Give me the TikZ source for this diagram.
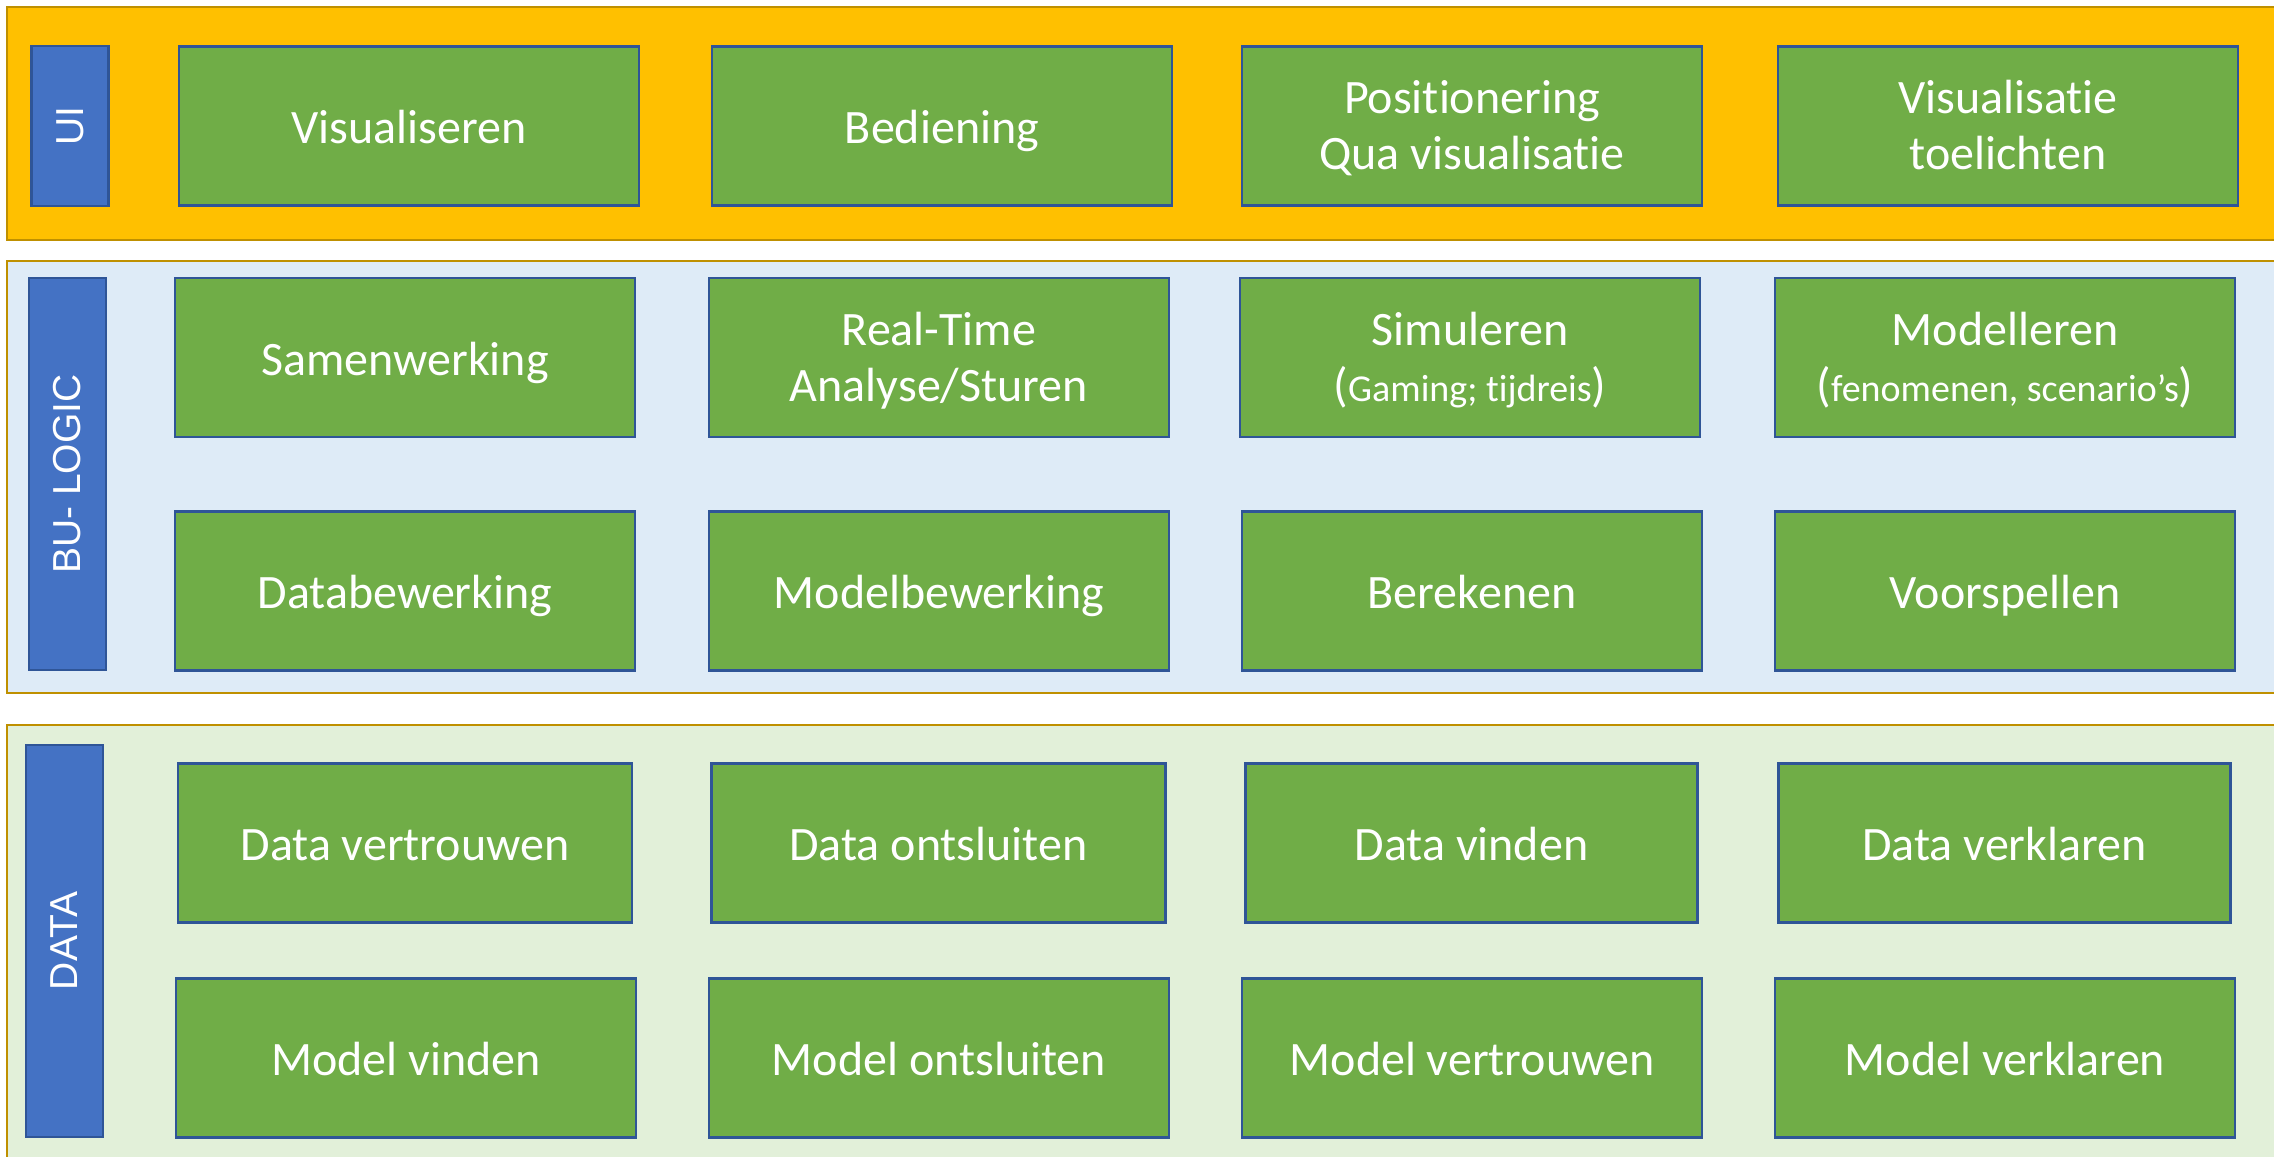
\documentclass[tikz,border=0pt]{standalone}
\usepackage{fontspec}
\setmainfont{Carlito}[Ligatures=NoCommon]
\newfontfamily\lblfont{Liberation Sans}
\definecolor{uiband}{HTML}{FFC000}
\definecolor{buband}{HTML}{DEEBF7}
\definecolor{databand}{HTML}{E2F0D9}
\definecolor{bandline}{HTML}{BF9000}
\definecolor{gfill}{HTML}{70AD47}
\definecolor{gline}{HTML}{2F5597}
\definecolor{lfill}{HTML}{4472C4}
\tikzset{
  x=0.5pt, y=-0.5pt,
  band/.style={draw=bandline, line width=1.3pt, inner sep=0pt, outer sep=0pt},
  gbox/.style={draw=gline, fill=gfill, line width=1.4pt, text=white, align=center,
    minimum width=230pt, minimum height=79.5pt, inner sep=0pt,
    font=\fontsize{24}{28}\selectfont,
    execute at begin node=\rule{0pt}{26pt}, execute at end node=\strut},
  lblbox/.style={draw=gline, fill=lfill, line width=1.2pt, text=white, inner sep=0pt,
    minimum height=38.5pt, font=\lblfont\fontsize{19.5}{23}\selectfont},
}
\newcommand{\smalltxt}[1]{{\fontsize{19}{22}\selectfont #1}}
\newcommand{\twolines}[2]{\rule{0pt}{24pt}#1\\#2\strut}
\begin{document}
\begin{tikzpicture}
\useasboundingbox (0,0) rectangle (2274,1156);
\clip (0,0) rectangle (2274,1156);
% bands
\path[band, fill=uiband] (7,7) rectangle (2300,240);
\path[band, fill=buband] (7,261) rectangle (2300,693);
\path[band, fill=databand] (7,725) rectangle (2300,1180);
% layer labels
\node[lblbox, minimum width=80pt, rotate=90] (lui) at (70,126) {UI};
\node[lblbox, minimum width=196pt, rotate=90] (lbu) at (67.5,474) {BU- LOGIC};
\node[lblbox, minimum width=196pt, rotate=90] (ldata) at (64.5,941) {DATA};
% UI row
\node[gbox] (vis) at (409,126) {Visualiseren};
\node[gbox] (bed) at (942,126) {Bediening};
\node[gbox] (pos) at (1472,126) {\twolines{Positionering}{Qua visualisatie}};
\node[gbox] (vist) at (2008,126) {\twolines{Visualisatie}{toelichten}};
% BU row 1
\node[gbox] (sam) at (405,357.5) {Samenwerking};
\node[gbox] (rta) at (939,357.5) {\twolines{Real-Time}{Analyse/Sturen}};
\node[gbox] (sim) at (1470,357.5) {\twolines{Simuleren}{(\smalltxt{Gaming; tijdreis})}};
\node[gbox] (mod) at (2005,357.5) {\twolines{Modelleren}{(\smalltxt{fenomenen, scenario’s})}};
% BU row 2
\node[gbox] (dbw) at (405,591) {Databewerking};
\node[gbox] (mbw) at (939,591) {Modelbewerking};
\node[gbox] (ber) at (1472,591) {Berekenen};
\node[gbox] (vsp) at (2005,591) {Voorspellen};
% DATA row 1
\node[gbox, minimum width=227pt] (dvt) at (405,843) {Data vertrouwen};
\node[gbox, minimum width=227pt] (dos) at (938.5,843) {Data ontsluiten};
\node[gbox, minimum width=226pt] (dvi) at (1471.5,843) {Data vinden};
\node[gbox, minimum width=226pt] (dvk) at (2004.5,843) {Data verklaren};
% DATA row 2
\node[gbox] (mvi) at (406,1058) {Model vinden};
\node[gbox] (mos) at (939,1058) {Model ontsluiten};
\node[gbox] (mvt) at (1472,1058) {Model vertrouwen};
\node[gbox] (mvk) at (2005,1058) {Model verklaren};
\end{tikzpicture}
\end{document}
